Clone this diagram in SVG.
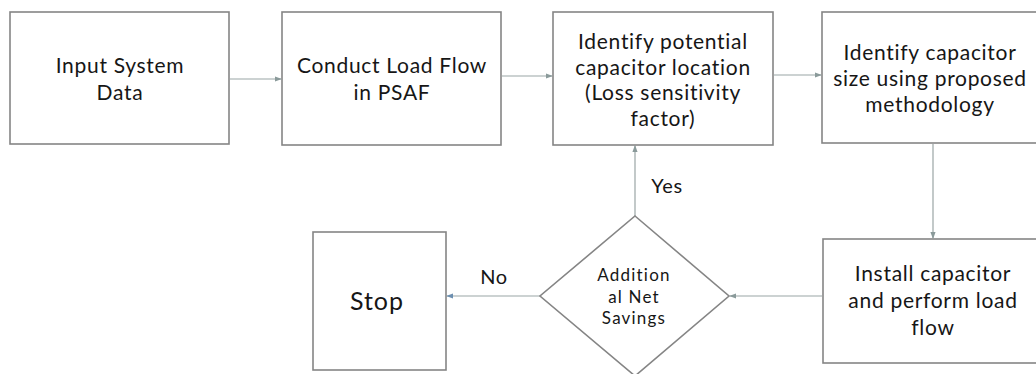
<svg xmlns="http://www.w3.org/2000/svg" width="1036" height="374" viewBox="0 0 1036 374">
<defs>
<style>
.box{fill:#fff;stroke:#858585;stroke-width:1.6}
.t{font-family:Lato,"Open Sans","Liberation Sans",sans-serif;font-size:21px;letter-spacing:0.7px;fill:#161616;text-anchor:middle}
.ts{font-family:Lato,"Open Sans","Liberation Sans",sans-serif;font-size:17px;letter-spacing:1.2px;fill:#161616;text-anchor:middle}
.tl{font-family:Lato,"Open Sans","Liberation Sans",sans-serif;font-size:20px;letter-spacing:0.6px;fill:#161616;text-anchor:middle}
.c{fill:none;stroke:#9aa5a5;stroke-width:1.2}
</style>
<marker id="ah" viewBox="0 0 8 8" refX="7" refY="4" markerWidth="6" markerHeight="6" orient="auto">
<path d="M0,1 L8,4 L0,7 Z" fill="#8a9a9a"/>
</marker>
<marker id="ahb" viewBox="0 0 8 8" refX="7" refY="4" markerWidth="6" markerHeight="6" orient="auto">
<path d="M0,1 L8,4 L0,7 Z" fill="#6c8fb0"/>
</marker>
</defs>
<rect width="1036" height="374" fill="#fff"/>
<g id="connectors">
<line class="c" x1="230" y1="79" x2="281" y2="79" marker-end="url(#ah)"/>
<line class="c" x1="502" y1="76" x2="552" y2="76" marker-end="url(#ah)"/>
<line class="c" x1="774" y1="75" x2="821" y2="75" marker-end="url(#ah)"/>
<line class="c" x1="933" y1="144" x2="933" y2="238" marker-end="url(#ah)"/>
<line class="c" x1="822" y1="296" x2="730" y2="296" marker-end="url(#ah)"/>
<line class="c" x1="635" y1="216" x2="635" y2="146" marker-end="url(#ah)"/>
<line class="c" x1="540" y1="296" x2="447" y2="296" stroke="#9bb3c8" marker-end="url(#ahb)"/>
<text class="tl" x="667" y="193">Yes</text>
<text class="tl" x="494" y="284">No</text>
</g>
<g id="n1">
<rect class="box" x="10" y="12" width="219" height="132"/>
<text class="t" x="120" y="73">Input System</text>
<text class="t" x="120" y="100">Data</text>
</g>
<g id="n2">
<rect class="box" x="282" y="12" width="219" height="133"/>
<text class="t" x="392" y="73">Conduct Load Flow</text>
<text class="t" x="392" y="100">in PSAF</text>
</g>
<g id="n3">
<rect class="box" x="553" y="12" width="220" height="133"/>
<text class="t" x="663" y="49">Identify potential</text>
<text class="t" x="663" y="74.5">capacitor location</text>
<text class="t" x="663" y="100">(Loss sensitivity</text>
<text class="t" x="663" y="125.5">factor)</text>
</g>
<g id="n4">
<rect class="box" x="822" y="12" width="216" height="131"/>
<text class="t" x="930" y="60">Identify capacitor</text>
<text class="t" x="930" y="86">size using proposed</text>
<text class="t" x="930" y="112">methodology</text>
</g>
<g id="n5">
<rect class="box" x="823" y="239" width="220" height="124"/>
<text class="t" x="933" y="281">Install capacitor</text>
<text class="t" x="933" y="308">and perform load</text>
<text class="t" x="933" y="335">flow</text>
</g>
<g id="n6">
<polygon class="box" points="635,216 729,296 635,376 540,296"/>
<text class="ts" x="634" y="281">Addition</text>
<text class="ts" x="634" y="302.5">al Net</text>
<text class="ts" x="634" y="324">Savings</text>
</g>
<g id="n7">
<rect class="box" x="313" y="232" width="133" height="138"/>
<text class="t" x="377" y="310" style="font-size:25px;letter-spacing:1px">Stop</text>
</g>
</svg>
